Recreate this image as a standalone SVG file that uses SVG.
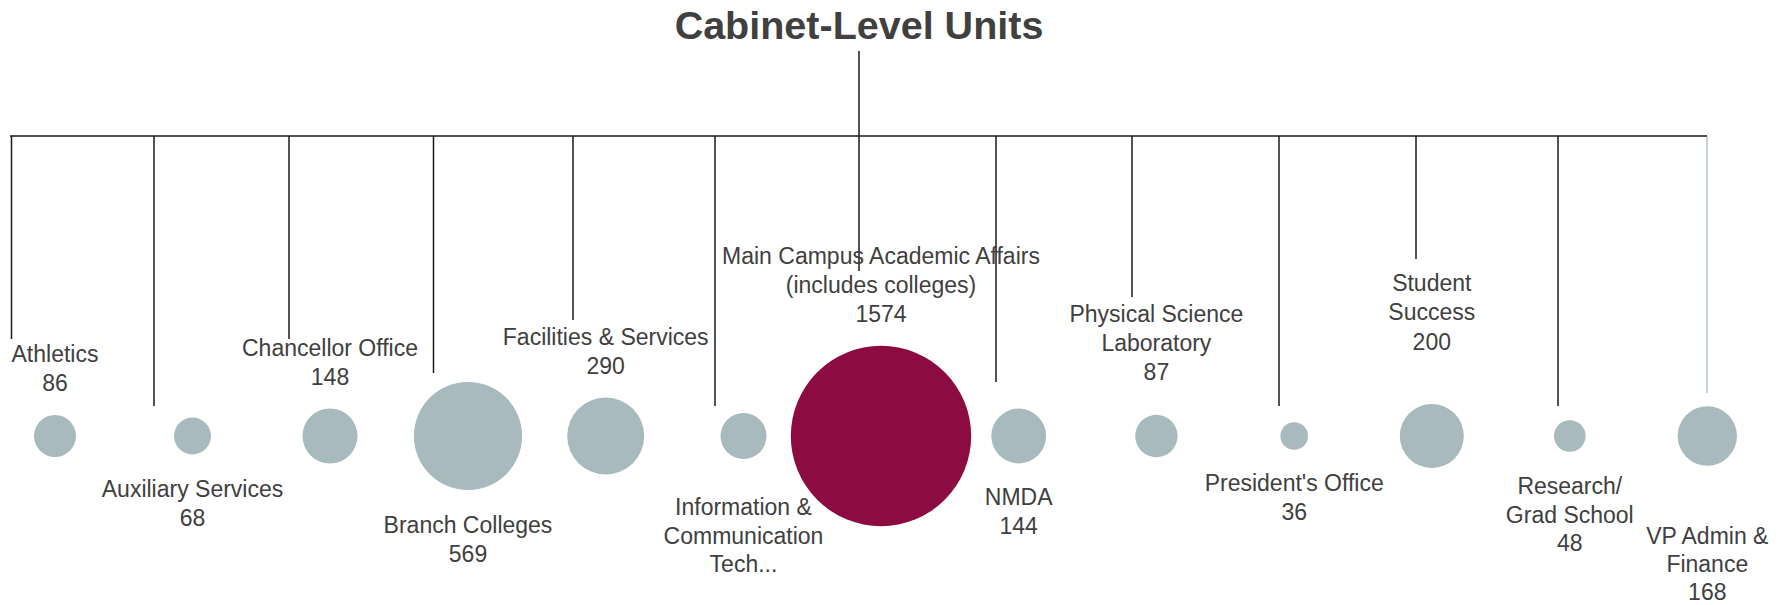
<svg xmlns="http://www.w3.org/2000/svg" width="1784" height="605" viewBox="0 0 1784 605">
<style>
.t{font-family:"Liberation Sans",Arial,sans-serif;font-size:23px;fill:#404040;text-anchor:middle}
.title{font-family:"Liberation Sans",Arial,sans-serif;font-size:39.5px;font-weight:bold;fill:#404040;text-anchor:middle}
.c{fill:#a8babd}
.m{fill:#8b0b42}
.l{stroke:#1a1a1a;stroke-width:1.5;fill:none}
.lv{stroke:#b4c6cc;stroke-width:1.5;fill:none}
</style>
<rect width="1784" height="605" fill="#fff"/>
<text class="title" x="859" y="38.5">Cabinet-Level Units</text>
<g id="connectors">
<line class="l" x1="10" y1="136" x2="1707" y2="136"/>
<line class="l" x1="859" y1="51" x2="859" y2="271"/>
<line class="l" x1="11.5" y1="136" x2="11.5" y2="339"/>
<line class="l" x1="154" y1="136" x2="154" y2="406"/>
<line class="l" x1="289" y1="136" x2="289" y2="339"/>
<line class="l" x1="433.5" y1="136" x2="433.5" y2="373"/>
<line class="l" x1="573" y1="136" x2="573" y2="320"/>
<line class="l" x1="715" y1="136" x2="715" y2="406"/>
<line class="l" x1="996" y1="136" x2="996" y2="382"/>
<line class="l" x1="1132" y1="136" x2="1132" y2="297"/>
<line class="l" x1="1279" y1="136" x2="1279" y2="406"/>
<line class="l" x1="1416" y1="136" x2="1416" y2="259"/>
<line class="l" x1="1558" y1="136" x2="1558" y2="406"/>
<line class="lv" x1="1707" y1="137" x2="1707" y2="393"/>
</g>
<g id="athletics"><circle class="c" cx="55" cy="436" r="21"/><text class="t" x="55" y="362">Athletics</text><text class="t" x="55" y="391">86</text></g>
<g id="auxiliary"><circle class="c" cx="192.5" cy="436" r="18.5"/><text class="t" x="192.5" y="497">Auxiliary Services</text><text class="t" x="192.5" y="525.5">68</text></g>
<g id="chancellor"><circle class="c" cx="330" cy="436" r="27.5"/><text class="t" x="330" y="356">Chancellor Office</text><text class="t" x="330" y="385">148</text></g>
<g id="branch"><circle class="c" cx="468" cy="436" r="54.1"/><text class="t" x="468" y="533">Branch Colleges</text><text class="t" x="468" y="562">569</text></g>
<g id="facilities"><circle class="c" cx="605.7" cy="436" r="38.5"/><text class="t" x="605.7" y="344.5">Facilities &amp; Services</text><text class="t" x="605.7" y="373.5">290</text></g>
<g id="ict"><circle class="c" cx="743.5" cy="436" r="23"/><text class="t" x="743.5" y="514.5">Information &amp;</text><text class="t" x="743.5" y="543.5">Communication</text><text class="t" x="743.5" y="572">Tech...</text></g>
<g id="main"><circle class="m" cx="881" cy="436" r="90.2"/><text class="t" x="881" y="264">Main Campus Academic Affairs</text><text class="t" x="881" y="293">(includes colleges)</text><text class="t" x="881" y="322">1574</text></g>
<g id="nmda"><circle class="c" cx="1018.7" cy="436" r="27.4"/><text class="t" x="1018.7" y="505">NMDA</text><text class="t" x="1018.7" y="533.5">144</text></g>
<g id="psl"><circle class="c" cx="1156.4" cy="436" r="21.2"/><text class="t" x="1156.4" y="322">Physical Science</text><text class="t" x="1156.4" y="351">Laboratory</text><text class="t" x="1156.4" y="380">87</text></g>
<g id="president"><circle class="c" cx="1294.2" cy="436" r="13.8"/><text class="t" x="1294.2" y="491">President's Office</text><text class="t" x="1294.2" y="520">36</text></g>
<g id="student"><circle class="c" cx="1431.8" cy="436" r="32"/><text class="t" x="1431.8" y="291">Student</text><text class="t" x="1431.8" y="320">Success</text><text class="t" x="1431.8" y="349.5">200</text></g>
<g id="research"><circle class="c" cx="1569.8" cy="436" r="15.8"/><text class="t" x="1569.8" y="494">Research/</text><text class="t" x="1569.8" y="522.5">Grad School</text><text class="t" x="1569.8" y="551">48</text></g>
<g id="vpadmin"><circle class="c" cx="1707.3" cy="436" r="29.7"/><text class="t" x="1707.3" y="543.5">VP Admin &amp;</text><text class="t" x="1707.3" y="572">Finance</text><text class="t" x="1707.3" y="600">168</text></g>
</svg>
